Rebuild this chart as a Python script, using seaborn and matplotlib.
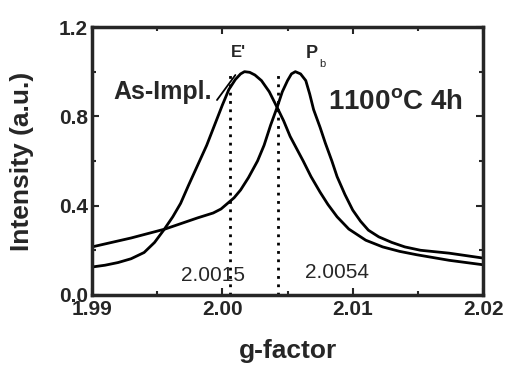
import matplotlib
matplotlib.use('Agg')
import matplotlib.pyplot as plt
from matplotlib.ticker import MultipleLocator, FormatStrFormatter
import numpy as np
import pandas as pd
import seaborn as sns

# DATA

g_as_impl = [1.9900, 1.9910, 1.9920, 1.9930, 1.9940, 1.9948, 1.9955, 1.9962,
             1.9968, 1.9974, 1.9981, 1.9988, 1.9994, 2.0000, 2.0005, 2.0010,
             2.0014, 2.0017, 2.0021, 2.0025, 2.0030, 2.0036, 2.0042, 2.0047,
             2.0052, 2.0057, 2.0062, 2.0068, 2.0075, 2.0081, 2.0088, 2.0097,
             2.0110, 2.0123, 2.0136, 2.0149, 2.0174, 2.0200]
i_as_impl = [0.125, 0.133, 0.145, 0.162, 0.190, 0.235, 0.290, 0.350,
             0.410, 0.490, 0.580, 0.670, 0.760, 0.850, 0.920, 0.965,
             0.990, 1.000, 0.997, 0.985, 0.960, 0.910, 0.840, 0.780,
             0.710, 0.655, 0.600, 0.530, 0.460, 0.405, 0.350, 0.295,
             0.245, 0.215, 0.195, 0.180, 0.155, 0.135]

g_annealed = [1.9900, 1.9930, 1.9956, 1.9981, 1.9993, 1.9999, 2.0004, 2.0009,
              2.0014, 2.0020, 2.0027, 2.0032, 2.0037, 2.0042, 2.0046, 2.0050,
              2.0053, 2.0056, 2.0060, 2.0064, 2.0067, 2.0070, 2.0075, 2.0079,
              2.0084, 2.0088, 2.0094, 2.0100, 2.0106, 2.0112, 2.0120, 2.0130,
              2.0140, 2.0152, 2.0174, 2.0200]
i_annealed = [0.215, 0.255, 0.295, 0.345, 0.367, 0.385, 0.410, 0.435,
              0.470, 0.525, 0.600, 0.670, 0.760, 0.840, 0.910, 0.960,
              0.990, 1.000, 0.990, 0.960, 0.900, 0.830, 0.750, 0.680,
              0.600, 0.530, 0.450, 0.380, 0.330, 0.290, 0.260, 0.235,
              0.215, 0.200, 0.187, 0.165]

marker_g = [2.0006, 2.0043]
marker_labels = ['2.0015', '2.0054']

x_ticks = [1.99, 2.00, 2.01, 2.02]
y_ticks = [0.0, 0.4, 0.8, 1.2]

# PLOT

sns.set_style('ticks')
plt.rcParams['font.family'] = ['Liberation Sans', 'DejaVu Sans']
plt.rcParams['font.weight'] = 'bold'

fig = plt.figure(figsize=(5.08, 3.65), dpi=100)
ax = fig.add_axes([0.181, 0.192, 0.770, 0.734])

sns.lineplot(x=g_as_impl, y=i_as_impl, ax=ax, color='black', lw=2.0,
             sort=False, estimator=None)
sns.lineplot(x=g_annealed, y=i_annealed, ax=ax, color='black', lw=2.0,
             sort=False, estimator=None)

# dotted markers for the two g values
ax.vlines(marker_g, 0, 0.99, colors='black', linestyles=(0, (1, 2)), lw=2.0)
ax.text(1.99928, 0.087, marker_labels[0], fontsize=15, fontweight='normal',
        ha='center', va='center')
ax.text(2.00880, 0.100, marker_labels[1], fontsize=15, fontweight='normal',
        ha='center', va='center')

# labels on the peaks
ax.text(2.00120, 1.088, "E'", fontsize=12, ha='center', va='center')
ax.text(2.00688, 1.083, 'P', fontsize=13, ha='center', va='center')
ax.text(2.00770, 1.035, 'b', fontsize=8, fontweight='normal', ha='center', va='center')
ax.text(1.99545, 0.909, 'As-Impl.', fontsize=18, ha='center', va='center')
ax.plot([1.99959, 2.0010], [0.873, 0.985], color='black', lw=1.3)
ax.text(2.01325, 0.860, '1100$^\\mathregular{o}$C 4h', fontsize=20, ha='center', va='center')

ax.set_xlim(1.99, 2.02)
ax.set_ylim(0, 1.2)
ax.xaxis.set_major_locator(plt.FixedLocator(x_ticks))
ax.yaxis.set_major_locator(plt.FixedLocator(y_ticks))
ax.xaxis.set_minor_locator(MultipleLocator(0.005))
ax.yaxis.set_minor_locator(MultipleLocator(0.2))
ax.xaxis.set_major_formatter(FormatStrFormatter('%.2f'))
ax.yaxis.set_major_formatter(FormatStrFormatter('%.1f'))

ax.tick_params(which='both', direction='in', top=True, right=True, width=1.5,
               labelsize=15)
ax.tick_params(axis='x', pad=4)
ax.tick_params(axis='y', pad=3)
ax.tick_params(which='major', length=5)
ax.tick_params(which='minor', length=3)
for lab in ax.get_xticklabels() + ax.get_yticklabels():
    lab.set_fontweight('bold')
for s in ax.spines.values():
    s.set_linewidth(2.5)

ax.set_xlabel('g-factor', fontsize=19, fontweight='bold', labelpad=14)
ax.set_ylabel('Intensity (a.u.)', fontsize=19, fontweight='bold', labelpad=18)

fig.savefig('out.png', dpi=100)
